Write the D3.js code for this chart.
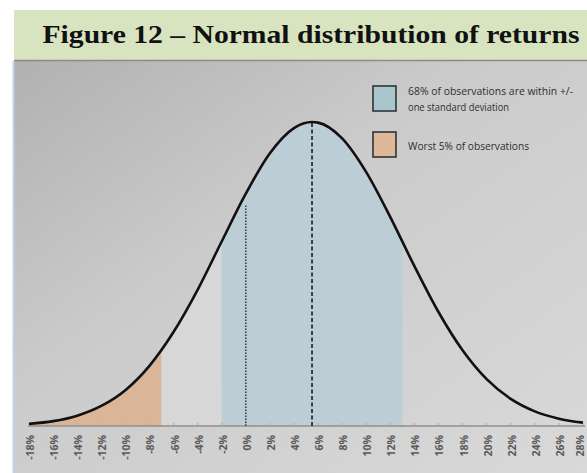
<!DOCTYPE html>
<html>
<head>
<meta charset="utf-8">
<script src="https://cdn.jsdelivr.net/npm/d3@7"></script>
<style>
  html, body { margin: 0; padding: 0; background: #ffffff; }
  svg { display: block; }
</style>
</head>
<body>
<svg id="chart" width="587" height="473"></svg>
<script>
// ---------- data ----------
const titleText = "Figure 12 \u2013 Normal distribution of returns";
// return (%) and relative frequency (peak = 100) along the drawn curve
const curveReturns = [-18, -16, -14, -12, -10, -8, -6, -4, -2, 0, 2, 4, 5.5, 6, 8, 10, 12, 14, 16, 18, 20, 22, 24, 26, 28];
const curveHeights = [0.7, 1.6, 3.4, 6.6, 11.8, 19.8, 30.9, 44.8, 60.7, 76.4, 89.7, 98.0, 100, 99.8, 94.6, 83.5, 68.7, 52.6, 37.5, 24.9, 15.4, 8.9, 4.8, 2.4, 1.1];
const tickValues = [-18, -16, -14, -12, -10, -8, -6, -4, -2, 0, 2, 4, 6, 8, 10, 12, 14, 16, 18, 20, 22, 24, 26, 28];
const meanReturn = 5.5;
const sdLow = -2;      // mean - 1 sd
const sdHigh = 13;     // mean + 1 sd
const worst5Cut = -7;  // 5% tail cut-off
const zeroLineTop = 72.5; // height reached by the dotted 0% line
const legendLabels = [["68% of observations are within +/-", "one standard deviation"], ["Worst 5% of observations"]];
const legendColors = ["#a9c6cf", "#ddb899"];

// ---------- layout ----------
const svg = d3.select("#chart");
const W = 587, H = 473;
const bannerTop = 10, bannerBottom = 60, panelLeft = 14;
const legendTextWidths = [[165, 101], [121]];

const defs = svg.append("defs");
const grad = defs.append("linearGradient").attr("id", "bg")
  .attr("x1", 0).attr("y1", 0).attr("x2", 1).attr("y2", 1);
grad.append("stop").attr("offset", 0).attr("stop-color", "#b1b1b1");
grad.append("stop").attr("offset", 0.4).attr("stop-color", "#cbcbcb");
grad.append("stop").attr("offset", 1).attr("stop-color", "#d9d9d9");

// title banner
svg.append("rect").attr("x", panelLeft).attr("y", bannerTop)
  .attr("width", W - panelLeft).attr("height", bannerBottom - bannerTop)
  .attr("fill", "#d8e4bf");
svg.append("text").attr("x", 311).attr("y", 43)
  .attr("text-anchor", "middle")
  .attr("font-family", "'Liberation Serif', 'DejaVu Serif', serif")
  .attr("font-weight", "bold").attr("font-size", 26)
  .attr("fill", "#111")
  .attr("textLength", 537).attr("lengthAdjust", "spacingAndGlyphs")
  .text(titleText);

// plot panel
svg.append("rect").attr("x", panelLeft).attr("y", bannerBottom)
  .attr("width", W - panelLeft).attr("height", H - bannerBottom)
  .attr("fill", "url(#bg)");
svg.append("line").attr("x1", panelLeft).attr("x2", W)
  .attr("y1", bannerBottom + 0.5).attr("y2", bannerBottom + 0.5)
  .attr("stroke", "#8a8a8a").attr("stroke-width", 1.5);
svg.append("line").attr("x1", panelLeft - 0.5).attr("x2", panelLeft - 0.5)
  .attr("y1", bannerBottom + 1).attr("y2", H)
  .attr("stroke", "#c3d1ea").attr("stroke-width", 2);

// scales
const x = d3.scaleLinear().domain([-18, 28]).range([29, 583]);
const y = d3.scaleLinear().domain([0, 100]).range([426, 122]);

const pts = curveReturns.map((r, i) => ({ r, h: curveHeights[i] }));
const curveType = d3.curveMonotoneX;
const area = d3.area().x(d => x(d.r)).y0(y(0)).y1(d => y(d.h)).curve(curveType);
const line = d3.line().x(d => x(d.r)).y(d => y(d.h)).curve(curveType);

function band(id, from, to, fill) {
  defs.append("clipPath").attr("id", id).append("rect")
    .attr("x", x(from)).attr("y", 0)
    .attr("width", x(to) - x(from)).attr("height", H);
  svg.append("path").datum(pts).attr("d", area)
    .attr("clip-path", `url(#${id})`).attr("fill", fill);
}
band("c1", -18, worst5Cut, "#dbb597");
band("c2", worst5Cut, sdLow, "#d7d7d7");
band("c3", sdLow, sdHigh, "#bccdd5");

// axis
const axisG = svg.append("g");
axisG.append("line").attr("x1", x(-18) - 1).attr("x2", x(28) + 2)
  .attr("y1", y(0)).attr("y2", y(0))
  .attr("stroke", "#8f8f8f").attr("stroke-width", 1.5);
axisG.selectAll("line.tick").data(tickValues).join("line").attr("class", "tick")
  .attr("x1", d => x(d)).attr("x2", d => x(d))
  .attr("y1", y(0)).attr("y2", y(0) - 3)
  .attr("stroke", "#a8a8a8").attr("stroke-width", 1);
axisG.selectAll("text").data(tickValues).join("text")
  .attr("transform", d => `translate(${Math.min(x(d) + 1, W - 7)},435) rotate(-90)`)
  .attr("text-anchor", "end").attr("dominant-baseline", "central")
  .attr("font-family", "'Open Sans', sans-serif").attr("font-weight", "bold")
  .attr("font-size", 10.5).attr("fill", "#5a5a5a")
  .text(d => d + "%");

// reference lines
svg.append("line").attr("x1", x(0)).attr("x2", x(0))
  .attr("y1", y(0)).attr("y2", y(zeroLineTop))
  .attr("stroke", "#3a4246").attr("stroke-width", 1.6)
  .attr("stroke-dasharray", "1.5,1.5");
svg.append("line").attr("x1", x(meanReturn)).attr("x2", x(meanReturn))
  .attr("y1", y(0)).attr("y2", y(100))
  .attr("stroke", "#2a2f33").attr("stroke-width", 1.8)
  .attr("stroke-dasharray", "4,2.5");

// curve
svg.append("path").datum(pts).attr("d", line)
  .attr("fill", "none").attr("stroke", "#111").attr("stroke-width", 2.6);

// legend
const lg = svg.append("g");
const sqX = 373, sqW = 23, sqH = 25;
const rowTops = [86, 132];
const textX = 408;
legendLabels.forEach((lines, i) => {
  lg.append("rect").attr("x", sqX).attr("y", rowTops[i])
    .attr("width", sqW).attr("height", sqH)
    .attr("fill", legendColors[i]).attr("stroke", "#2f3436").attr("stroke-width", 1.6);
  const cy = rowTops[i] + sqH / 2 + (lines.length === 1 ? 1.5 : 0);
  const n = lines.length;
  lines.forEach((t, j) => {
    lg.append("text").attr("x", textX).attr("y", cy + (j - (n - 1) / 2) * 16)
      .attr("dominant-baseline", "central")
      .attr("font-family", "'Open Sans', sans-serif")
      .attr("font-size", 10.4).attr("fill", "#2e2e2e")
      .attr("textLength", legendTextWidths[i][j]).attr("lengthAdjust", "spacingAndGlyphs")
      .text(t);
  });
});
</script>
</body>
</html>
